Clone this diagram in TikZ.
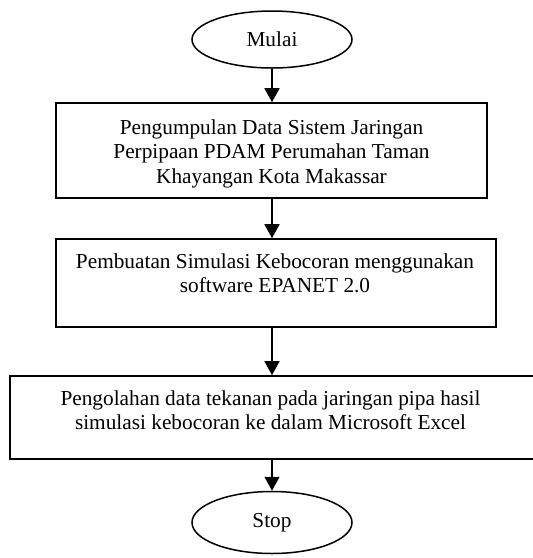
\documentclass[tikz,border=0pt]{standalone}
\usepackage{fontspec}
\setmainfont{Liberation Serif}
\usetikzlibrary{shapes.geometric,arrows.meta}
\tikzset{
  boxshape/.style={draw, line width=1.6pt, inner sep=0pt},
  ovalshape/.style={draw, ellipse, line width=1.5pt, inner sep=0pt, minimum width=160pt,
     font=\fontsize{21.3}{24.5}\selectfont},
  boxtext/.style={anchor=north, inner sep=0pt, align=center, font=\fontsize{21.3}{24.5}\selectfont},
  arr/.style={line width=1.3pt, -{Triangle[width=15pt,length=14pt]}}
}
\begin{document}
\begin{tikzpicture}[x=1pt,y=-1pt]
\useasboundingbox (0,0) rectangle (533,558);
\clip (0,0) rectangle (533,558);
\fill[white] (0,0) rectangle (533,558);
% start
\node[ovalshape, minimum height=57pt] (m) at (272,39.5) {Mulai};
% boxes
\node[boxshape, minimum width=431pt, minimum height=95pt] (b1) at (271.5,150.5) {};
\node[boxtext] (t1) at (271.5,118) {\rule{0pt}{16pt}Pengumpulan Data Sistem Jaringan\\Perpipaan PDAM Perumahan Taman\\Khayangan Kota Makassar};
\node[boxshape, minimum width=440pt, minimum height=88pt] (b2) at (276,283) {};
\node[boxtext] (t2) at (275,252) {\rule{0pt}{16pt}Pembuatan Simulasi Kebocoran menggunakan\\software EPANET 2.0};
\node[boxshape, minimum width=525pt, minimum height=83pt] (b3) at (272.5,417.5) {};
\node[boxtext] (t3) at (270.5,389) {\rule{0pt}{16pt}Pengolahan data tekanan pada jaringan pipa hasil\\simulasi kebocoran ke dalam Microsoft Excel};
% stop
\node[ovalshape, minimum height=62pt] (s) at (272,522.5) {Stop};
% connectors
\draw[arr] (m.south) -- (m.south |- b1.north);
\draw[arr] (b1.south -| m) -- (b2.north -| m);
\draw[arr] (b2.south -| m) -- (b3.north -| m);
\draw[arr] (b3.south -| s) -- (s.north);
\end{tikzpicture}
\end{document}
